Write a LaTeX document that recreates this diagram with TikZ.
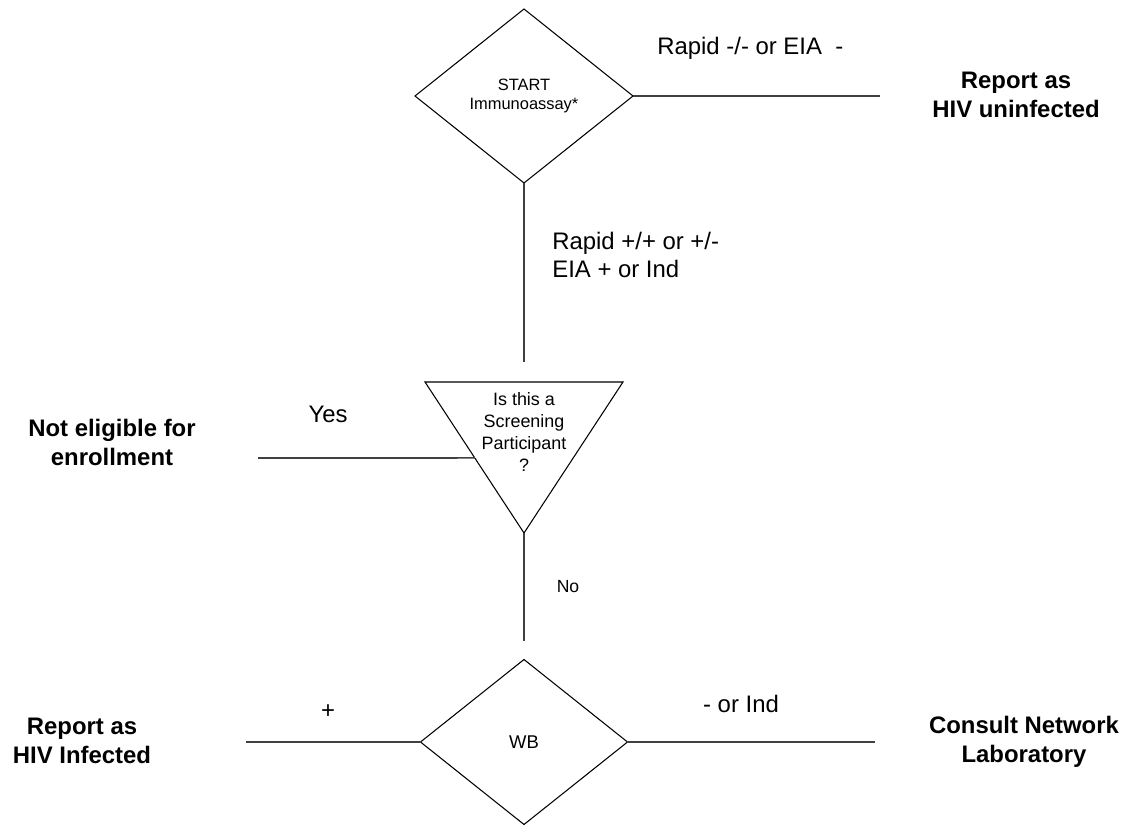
\documentclass[tikz,border=0pt]{standalone}
\usepackage{fontspec}
\setmainfont{Liberation Sans}
\usetikzlibrary{shapes.geometric,calc}

\begin{document}
\begin{tikzpicture}[
  decision/.style={diamond, draw, line width=0.6pt, inner sep=0pt, outer sep=0pt, align=center},
  link/.style={line width=0.9pt, black!75},
  outcome/.style={align=center, inner sep=0pt, font=\bfseries\fontsize{13.6}{16.4}\selectfont},
  answer/.style={inner sep=0pt, font=\fontsize{13.6}{15.9}\selectfont}
]
\useasboundingbox (0,0) rectangle (22.6,16.5);
% The two diamonds are nodes, the triangle is drawn by hand
\node[decision, minimum width=4.36cm, minimum height=3.48cm, font=\fontsize{9.35}{11.3}\selectfont] (start) at (10.48,14.58) {START\\Immunoassay*};
\node[decision, minimum width=4.14cm, minimum height=3.3cm, font=\fontsize{10.5}{12}\selectfont] (wb) at (10.48,1.66) {WB};
\coordinate (tri-tl) at (8.5,8.86);
\coordinate (tri-tr) at (12.46,8.86);
\coordinate (tri-b) at (10.48,5.84);
\draw[line width=0.6pt] (tri-tl) -- (tri-tr) -- (tri-b) -- cycle;
\node[align=center, inner sep=0pt, font=\fontsize{10.2}{12.6}\selectfont] (screen) at (10.48,7.86) {Is this a\\Screening\\Participant\\?};

% Where each result goes
\node[outcome] (uninf) at (20.32,14.61) {Report as\\HIV uninfected};
\node[outcome] (noteligible) at (2.24,7.65) {Not eligible for\\enrollment};
\node[outcome] (infected) at (1.64,1.69) {Report as\\HIV Infected};
\node[outcome] (consult) at (20.48,1.66) {Consult Network\\Laboratory};

% The lines stop short of the labels, so their loose ends are coordinates
\coordinate (uninf-end) at (17.6,14.58);
\coordinate (start-end) at (10.48,9.26);
\coordinate (yes-end) at (5.16,7.34);
\coordinate (no-end) at (10.48,3.68);
\coordinate (pos-end) at (4.92,1.66);
\coordinate (neg-end) at (17.5,1.66);
\draw[link] (start.east) -- (uninf-end);
\draw[link] (start.south) -- (start-end);
\draw[link] (yes-end) -- ($(tri-tl)!0.503!(tri-b)$);
\draw[link] (tri-b) -- (no-end);
\draw[link] (pos-end) -- (wb.west);
\draw[link] (wb.east) -- (neg-end);

% Answers written by the lines
\node[answer, anchor=base west] (rapidneg) at (13.14,15.4) {Rapid -/- or EIA~~-};
\node[answer, align=left, anchor=west] (rapidpos) at (11.04,11.4) {Rapid +/+ or +/-\\EIA + or Ind};
\node[answer, anchor=base] (yes) at (6.56,8.06) {Yes};
\node[answer, font=\fontsize{10}{12}\selectfont] (no) at (11.36,4.76) {No};
\node[answer] (plus) at (6.56,2.26) {+};
\node[answer, anchor=base] (wbneg) at (14.82,2.26) {- or Ind};
\end{tikzpicture}
\end{document}
